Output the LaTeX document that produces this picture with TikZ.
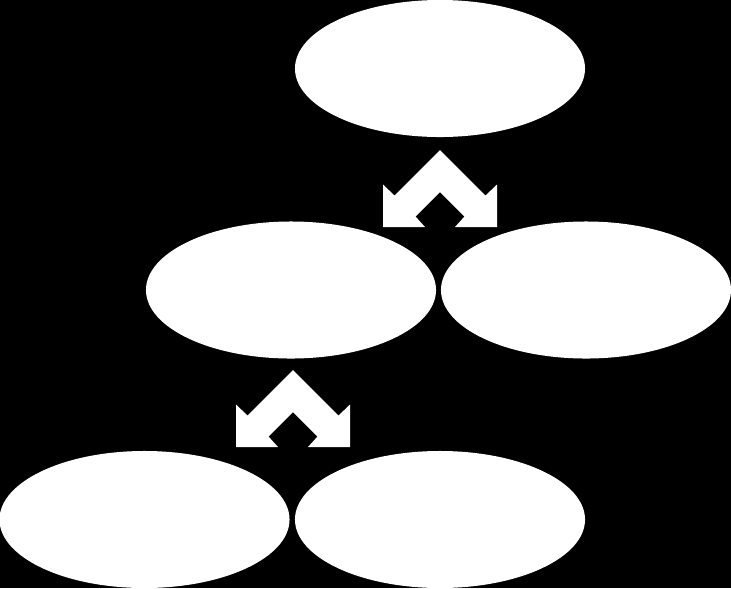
\documentclass[tikz,border=0pt]{standalone}
\usepackage{amsmath}
\usepackage{tikz}
\usetikzlibrary{calc,shapes.geometric}

\tikzset{
  blob/.style={ellipse, fill=white, inner sep=0pt, minimum width=7.25cm, minimum height=3.425cm},
  updown/.pic={\fill[white] (0,0) -- (45.5,45.5) -- (57,34.5) -- (57,77) -- (15,77) -- (24.5,66.5) -- (0,42) -- (-24.5,66.5) -- (-15,77) -- (-57,77) -- (-57,34.5) -- (-45.5,45.5) -- cycle;}
}

\begin{document}
\begin{tikzpicture}[x=0.025cm, y=-0.025cm]
\fill[black] (0,0) rectangle (731,588);
\useasboundingbox (0,0) rectangle (731,588);
\node[blob] (top) at (440,68.5) {};
\node[blob] (midl) at (291,290) {};
\node[blob] (midr) at (586,290) {};
\node[blob] (botl) at (144.5,519.5) {};
\node[blob] (botr) at (440,519.5) {};
\pic at (440,150) {updown};
\pic at (293,370) {updown};
\end{tikzpicture}
\end{document}
